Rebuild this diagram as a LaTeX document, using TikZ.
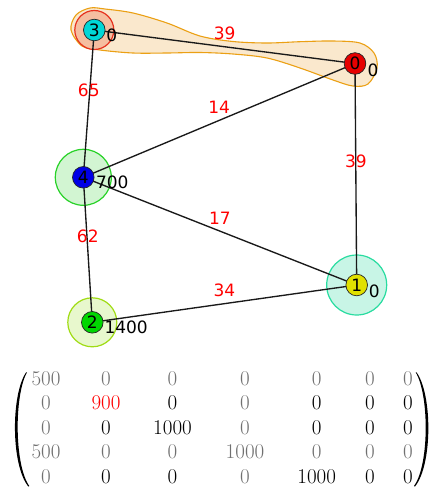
\documentclass[tikz,border=0pt]{standalone}
\usepackage{fontspec}
\newfontfamily\dv{DejaVu Sans}
\usetikzlibrary{calc}
\definecolor{cCyan}{RGB}{0,215,215}
\definecolor{cRed}{RGB}{230,0,0}
\definecolor{cBlue}{RGB}{0,0,230}
\definecolor{cYellow}{RGB}{225,225,0}
\definecolor{cGreen}{RGB}{0,215,0}
\definecolor{ringRedD}{RGB}{230,50,30}
\definecolor{ringRedF}{RGB}{245,190,160}
\definecolor{haloGD}{RGB}{40,210,40}
\definecolor{haloGF}{RGB}{210,245,210}
\definecolor{haloTD}{RGB}{40,220,160}
\definecolor{haloTF}{RGB}{200,245,230}
\definecolor{haloYD}{RGB}{160,220,20}
\definecolor{haloYF}{RGB}{232,248,205}
\definecolor{blobD}{RGB}{235,160,20}
\definecolor{blobF}{RGB}{250,232,205}
\definecolor{mgray}{RGB}{112,112,112}
\definecolor{elabel}{RGB}{255,0,0}
\tikzset{
  vnode/.style={circle,draw=black!85,line width=0.7pt,minimum size=21.6pt,inner sep=0pt,font=\dv\fontsize{17}{17}\selectfont},
  halo/.style={circle,line width=1.2pt,inner sep=0pt},
  edge/.style={line width=1.35pt,black!90},
  elab/.style={font=\dv\fontsize{17}{17}\selectfont,text=elabel,inner sep=0pt},
  vlab/.style={font=\dv\fontsize{17}{17}\selectfont,anchor=west,inner sep=0pt},
  mentry/.style={font=\fontsize{21}{21}\selectfont,inner sep=0pt},
  gentry/.style={mentry,text=mgray},
}
\begin{document}
\begin{tikzpicture}[x=1pt,y=-1pt]
\useasboundingbox (0,0) rectangle (430,491);
% blob around 3 and 0
\draw[draw=blobD,fill=blobF,line width=1.1pt] plot[smooth cycle,tension=0.55] coordinates {
 (71,30) (76,15) (90,8) (105,9) (133,13) (167,23) (200,36) (233,41.5) (267,43) (300,41.7) (333,41) (360,43) (374,53) (377,68) (368,84) (353,86) (333,80) (300,68) (267,58) (233,54) (200,52.5) (167,53) (133,53) (100,50) (82,46)};
% halos
\node[halo,draw=ringRedD,fill=ringRedF,minimum size=39pt] (h3) at (94.3,30) {};
\node[halo,draw=haloGD,fill=haloGF,minimum size=56pt] (h4) at (83.3,177.3) {};
\node[halo,draw=haloTD,fill=haloTF,minimum size=60pt] (h1) at (356.7,285) {};
\node[halo,draw=haloYD,fill=haloYF,minimum size=49pt] (h2) at (92.3,322.3) {};
% coordinates of node centres
\coordinate (c3) at (94.3,30);
\coordinate (c0) at (355,63.5);
\coordinate (c4) at (83.3,177.3);
\coordinate (c1) at (356.7,285);
\coordinate (c2) at (92.3,322.3);
% edges
\draw[edge] (c3) -- node[elab,midway,yshift=13pt]{39} (c0);
\draw[edge] (c3) -- node[elab,midway,yshift=13pt]{65} (c4);
\draw[edge] (c4) -- node[elab,midway,yshift=13pt]{14} (c0);
\draw[edge] (c0) -- node[elab,midway,yshift=13pt]{39} (c1);
\draw[edge] (c4) -- node[elab,midway,yshift=13pt]{17} (c1);
\draw[edge] (c4) -- node[elab,midway,yshift=13pt]{62} (c2);
\draw[edge] (c2) -- node[elab,midway,yshift=13pt]{34} (c1);
% vertices
\node[vnode,fill=cCyan] (n3) at (c3) {3};
\node[vnode,fill=cRed] (n0) at (c0) {0};
\node[vnode,fill=cBlue] (n4) at (c4) {4};
\node[vnode,fill=cYellow] (n1) at (c1) {1};
\node[vnode,fill=cGreen] (n2) at (c2) {2};
% vertex values
\node[vlab] (v3) at ($(n3.center)+(12,5.5)$) {0};
\node[vlab] (v0) at ($(n0.center)+(12.5,6.5)$) {0};
\node[vlab] (v4) at ($(n4.center)+(12.5,5.5)$) {700};
\node[vlab] (v1) at ($(n1.center)+(12,6)$) {0};
\node[vlab] (v2) at ($(n2.center)+(12,5)$) {1400};
% matrix
% row 1 (gray)
\node[gentry] (m11) at (46,378.3) {500};
\node[gentry] (m12) at (106,378.3) {0};
\node[gentry] (m13) at (172.5,378.3) {0};
\node[gentry] (m14) at (245,378.3) {0};
\node[gentry] (m15) at (316.7,378.3) {0};
\node[gentry] (m16) at (370,378.3) {0};
\node[gentry] (m17) at (408,378.3) {0};
% row 2
\node[gentry] (m21) at (46,402.7) {0};
\node[mentry,text=red] (m22) at (106,402.7) {900};
\node[mentry] (m23) at (172.5,402.7) {0};
\node[gentry] (m24) at (245,402.7) {0};
\node[mentry] (m25) at (316.7,402.7) {0};
\node[mentry] (m26) at (370,402.7) {0};
\node[mentry] (m27) at (408,402.7) {0};
% row 3
\node[gentry] (m31) at (46,427.7) {0};
\node[mentry] (m32) at (106,427.7) {0};
\node[mentry] (m33) at (172.5,427.7) {1000};
\node[gentry] (m34) at (245,427.7) {0};
\node[mentry] (m35) at (316.7,427.7) {0};
\node[mentry] (m36) at (370,427.7) {0};
\node[mentry] (m37) at (408,427.7) {0};
% row 4 (gray)
\node[gentry] (m41) at (46,451.7) {500};
\node[gentry] (m42) at (106,451.7) {0};
\node[gentry] (m43) at (172.5,451.7) {0};
\node[gentry] (m44) at (245,451.7) {1000};
\node[gentry] (m45) at (316.7,451.7) {0};
\node[gentry] (m46) at (370,451.7) {0};
\node[gentry] (m47) at (408,451.7) {0};
% row 5
\node[gentry] (m51) at (46,476.7) {0};
\node[mentry] (m52) at (106,476.7) {0};
\node[mentry] (m53) at (172.5,476.7) {0};
\node[gentry] (m54) at (245,476.7) {0};
\node[mentry] (m55) at (316.7,476.7) {1000};
\node[mentry] (m56) at (370,476.7) {0};
\node[mentry] (m57) at (408,476.7) {0};
% parentheses
\fill[black] (26,372.5) .. controls (10.9,395) and (10.9,465) .. (28.3,486.5)
  -- (29.3,486) .. controls (14.2,465) and (14.2,395) .. (27,372.3) -- cycle;
\fill[black] (416.7,372.5) .. controls (432.5,395) and (432.5,465) .. (415,486.5)
  -- (414,486) .. controls (429.3,465) and (429.3,395) .. (415.7,372.3) -- cycle;
\end{tikzpicture}
\end{document}
